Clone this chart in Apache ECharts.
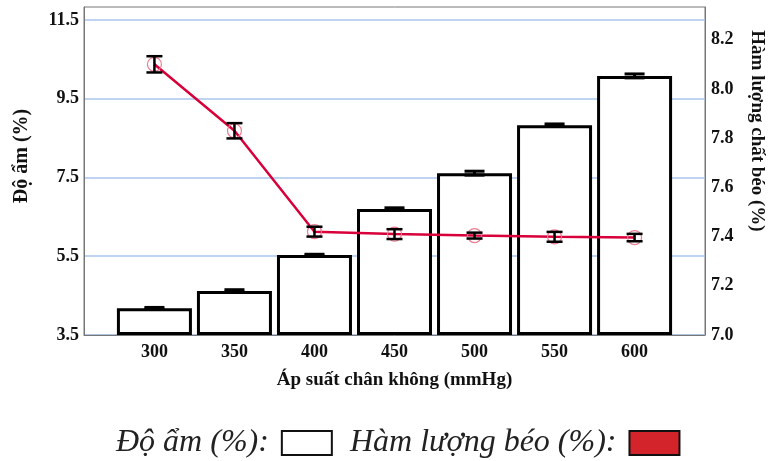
<!DOCTYPE html>
<html>
<head>
<meta charset="utf-8">
<script src="https://cdn.jsdelivr.net/npm/echarts@6/dist/echarts.min.js"></script>
<style>
html,body{margin:0;padding:0;background:#fff;}
#c{width:768px;height:461px;}
</style>
</head>
<body>
<div id="c"></div>
<script>
// Data
const pressures = [300, 350, 400, 450, 500, 550, 600];
const xTickLabels = ['300', '350', '400', '450', '500', '550', '600'];
const moisture = [4.18, 4.62, 5.53, 6.70, 7.61, 8.83, 10.08];
const moistureErr = [0.02, 0.03, 0.02, 0.03, 0.05, 0.03, 0.05];
const fat = [8.10, 7.83, 7.42, 7.41, 7.404, 7.399, 7.396];
const fatErr = [0.033, 0.031, 0.02, 0.02, 0.012, 0.02, 0.015];
const leftTicks = [3.5, 5.5, 7.5, 9.5, 11.5];
const rightTicks = [7.0, 7.2, 7.4, 7.6, 7.8, 8.0, 8.2];

const SERIF = "'Liberation Serif', 'DejaVu Serif', serif";

function errRender(capW, lw) {
  return function (params, api) {
    const x = api.value(0), lo = api.value(1), hi = api.value(2);
    const pHi = api.coord([x, hi]);
    const pLo = api.coord([x, lo]);
    const h = capW / 2;
    const st = { stroke: '#000', lineWidth: lw };
    return {
      type: 'group',
      children: [
        { type: 'line', shape: { x1: pHi[0], y1: pHi[1], x2: pLo[0], y2: pLo[1] }, style: st },
        { type: 'line', shape: { x1: pHi[0] - h, y1: pHi[1], x2: pHi[0] + h, y2: pHi[1] }, style: st },
        { type: 'line', shape: { x1: pLo[0] - h, y1: pLo[1], x2: pLo[0] + h, y2: pLo[1] }, style: st }
      ]
    };
  };
}

const chart = echarts.init(document.getElementById('c'), null, { renderer: 'canvas' });
const nameM = 'Độ ẩm (%):';
const nameF = 'Hàm lượng béo (%):';

const legendCommon = {
  top: 427,
  orient: 'horizontal',
  align: 'right',
  selectedMode: false,
  itemWidth: 50, itemHeight: 24,
  padding: 0,
  formatter: n => n + ' ',
  textStyle: { fontFamily: SERIF, fontStyle: 'italic', fontSize: 32, color: '#222' }
};

chart.setOption({
  backgroundColor: '#fff',
  animation: false,
  grid: { left: 84, right: 63, top: 7, bottom: 126, outerBoundsMode: 'none', containLabel: false,
    show: true, borderColor: '#777', borderWidth: 1, backgroundColor: 'transparent' },
  legend: [
    Object.assign({}, legendCommon, {
      left: 116,
      data: [{ name: nameM, icon: 'rect', itemStyle: { color: '#fff', borderColor: '#111', borderWidth: 2 } }]
    }),
    Object.assign({}, legendCommon, {
      left: 350,
      data: [{ name: nameF, icon: 'rect', itemStyle: { color: '#d3232b', borderColor: '#111', borderWidth: 2 }, lineStyle: { width: 0, opacity: 0 } }]
    })
  ],
  xAxis: {
    type: 'value', min: 256, max: 644,
    name: 'Áp suất chân không (mmHg)', nameLocation: 'middle', nameGap: 36,
    nameTextStyle: { fontFamily: SERIF, fontWeight: 'bold', fontSize: 19, color: '#111' },
    axisLine: { show: true, lineStyle: { color: '#777', width: 1 } },
    axisTick: { show: false, customValues: pressures },
    axisLabel: { customValues: pressures, margin: 8, fontFamily: SERIF, fontWeight: 'bold', fontSize: 18, color: '#111',
      formatter: v => xTickLabels[pressures.indexOf(v)] },
    splitLine: { show: false }
  },
  yAxis: [
    {
      type: 'value', min: 3.5, max: 11.83, startValue: 3.5, position: 'left',
      name: 'Độ ẩm (%)', nameLocation: 'middle', nameGap: 52, nameRotate: 90,
      nameTextStyle: { fontFamily: SERIF, fontWeight: 'bold', fontSize: 20, color: '#111', padding: [0, 0, 0, 30] },
      axisLine: { show: true, lineStyle: { color: '#777', width: 1 } },
      axisTick: { show: false, customValues: leftTicks },
      axisLabel: { customValues: leftTicks, margin: 5, fontFamily: SERIF, fontWeight: 'bold', fontSize: 18, color: '#111',
        formatter: v => v.toFixed(1) },
      splitLine: { show: true, lineStyle: { color: '#a9c6ec', width: 1.5 } }
    },
    {
      type: 'value', min: 7.0, max: 8.333, position: 'right',
      name: 'Hàm lượng chất béo (%)', nameLocation: 'middle', nameGap: 42, nameRotate: -90,
      nameTextStyle: { fontFamily: SERIF, fontWeight: 'bold', fontSize: 19, color: '#111', padding: [0, 80, 0, 0] },
      axisLine: { show: true, lineStyle: { color: '#777', width: 1 } },
      axisTick: { show: false, customValues: rightTicks },
      axisLabel: { customValues: rightTicks, margin: 6, fontFamily: SERIF, fontWeight: 'bold', fontSize: 18, color: '#111',
        formatter: v => v.toFixed(1) },
      splitLine: { show: false }
    }
  ],
  series: [
    {
      name: nameM, type: 'bar', xAxisIndex: 0, yAxisIndex: 0,
      barWidth: 75,
      itemStyle: { color: '#fff', borderColor: '#000', borderWidth: 3 },
      data: pressures.map((p, i) => [p, moisture[i]]),
      z: 2
    },
    {
      name: 'moistErr', type: 'custom', xAxisIndex: 0, yAxisIndex: 0,
      renderItem: errRender(20, 3),
      data: pressures.map((p, i) => [p, moisture[i] - moistureErr[i], moisture[i] + moistureErr[i]]),
      z: 3
    },
    {
      name: nameF, type: 'line', xAxisIndex: 0, yAxisIndex: 1,
      symbol: 'circle', symbolSize: 14,
      itemStyle: { color: 'rgba(255,255,255,0)', borderColor: '#f07a92', borderWidth: 1.2 },
      lineStyle: { color: '#d8003a', width: 2.5 },
      data: pressures.map((p, i) => [p, fat[i]]),
      z: 4
    },
    {
      name: 'fatErr', type: 'custom', xAxisIndex: 0, yAxisIndex: 1,
      renderItem: errRender(16, 2.5),
      data: pressures.map((p, i) => [p, fat[i] - fatErr[i], fat[i] + fatErr[i]]),
      z: 5
    }
  ]
});
</script>
</body>
</html>
